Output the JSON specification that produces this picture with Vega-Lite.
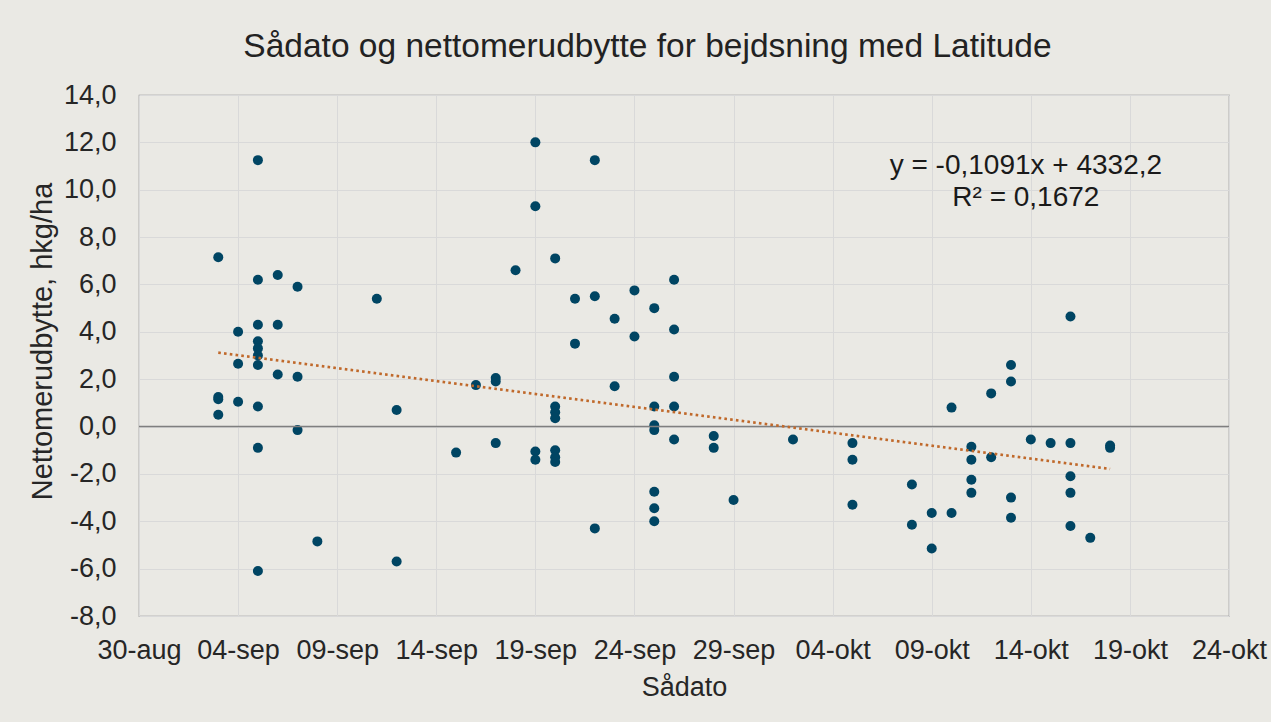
{
  "$schema": "https://vega.github.io/schema/vega-lite/v6.json",
  "width": 1090,
  "height": 521,
  "autosize": {"type": "none"},
  "padding": {"left": 139, "top": 95, "right": 42, "bottom": 106},
  "background": "#EAE9E4",
  "config": {
    "view": {"stroke": "#8C8C8C", "strokeWidth": 1.2},
    "font": "Liberation Sans"
  },
  "title": {
    "text": "Sådato og nettomerudbytte for bejdsning med Latitude",
    "font": "Liberation Sans",
    "fontSize": 33.5,
    "fontWeight": "normal",
    "color": "#222222",
    "anchor": "middle",
    "frame": "bounds",
    "offset": 17
  },
  "datasets": {
    "punkter": [
      {"dato": "2021-09-03", "netto": 7.15},
      {"dato": "2021-09-03", "netto": 1.25},
      {"dato": "2021-09-03", "netto": 1.15},
      {"dato": "2021-09-03", "netto": 0.5},
      {"dato": "2021-09-04", "netto": 4.0},
      {"dato": "2021-09-04", "netto": 2.65},
      {"dato": "2021-09-04", "netto": 1.05},
      {"dato": "2021-09-05", "netto": 11.25},
      {"dato": "2021-09-05", "netto": 6.2},
      {"dato": "2021-09-05", "netto": 4.3},
      {"dato": "2021-09-05", "netto": 3.6},
      {"dato": "2021-09-05", "netto": 3.3},
      {"dato": "2021-09-05", "netto": 3.0},
      {"dato": "2021-09-05", "netto": 2.6},
      {"dato": "2021-09-05", "netto": 0.85},
      {"dato": "2021-09-05", "netto": -0.9},
      {"dato": "2021-09-05", "netto": -6.1},
      {"dato": "2021-09-06", "netto": 6.4},
      {"dato": "2021-09-06", "netto": 4.3},
      {"dato": "2021-09-06", "netto": 2.2},
      {"dato": "2021-09-07", "netto": 5.9},
      {"dato": "2021-09-07", "netto": 2.1},
      {"dato": "2021-09-07", "netto": -0.15},
      {"dato": "2021-09-08", "netto": -4.85},
      {"dato": "2021-09-11", "netto": 5.4},
      {"dato": "2021-09-12", "netto": 0.7},
      {"dato": "2021-09-12", "netto": -5.7},
      {"dato": "2021-09-15", "netto": -1.1},
      {"dato": "2021-09-16", "netto": 1.75},
      {"dato": "2021-09-17", "netto": 2.05},
      {"dato": "2021-09-17", "netto": 1.9},
      {"dato": "2021-09-17", "netto": -0.7},
      {"dato": "2021-09-18", "netto": 6.6},
      {"dato": "2021-09-19", "netto": 12.0},
      {"dato": "2021-09-19", "netto": 9.3},
      {"dato": "2021-09-19", "netto": -1.05},
      {"dato": "2021-09-19", "netto": -1.4},
      {"dato": "2021-09-20", "netto": 7.1},
      {"dato": "2021-09-20", "netto": 0.85},
      {"dato": "2021-09-20", "netto": 0.6},
      {"dato": "2021-09-20", "netto": 0.35},
      {"dato": "2021-09-20", "netto": -1.0},
      {"dato": "2021-09-20", "netto": -1.3},
      {"dato": "2021-09-20", "netto": -1.5},
      {"dato": "2021-09-21", "netto": 5.4},
      {"dato": "2021-09-21", "netto": 3.5},
      {"dato": "2021-09-22", "netto": 11.25},
      {"dato": "2021-09-22", "netto": 5.5},
      {"dato": "2021-09-22", "netto": -4.3},
      {"dato": "2021-09-23", "netto": 4.55},
      {"dato": "2021-09-23", "netto": 1.7},
      {"dato": "2021-09-24", "netto": 5.75},
      {"dato": "2021-09-24", "netto": 3.8},
      {"dato": "2021-09-25", "netto": 5.0},
      {"dato": "2021-09-25", "netto": 0.85},
      {"dato": "2021-09-25", "netto": 0.05},
      {"dato": "2021-09-25", "netto": -0.15},
      {"dato": "2021-09-25", "netto": -2.75},
      {"dato": "2021-09-25", "netto": -3.45},
      {"dato": "2021-09-25", "netto": -4.0},
      {"dato": "2021-09-26", "netto": 6.2},
      {"dato": "2021-09-26", "netto": 4.1},
      {"dato": "2021-09-26", "netto": 2.1},
      {"dato": "2021-09-26", "netto": 0.85},
      {"dato": "2021-09-26", "netto": -0.55},
      {"dato": "2021-09-28", "netto": -0.4},
      {"dato": "2021-09-28", "netto": -0.9},
      {"dato": "2021-09-29", "netto": -3.1},
      {"dato": "2021-10-02", "netto": -0.55},
      {"dato": "2021-10-05", "netto": -0.7},
      {"dato": "2021-10-05", "netto": -1.4},
      {"dato": "2021-10-05", "netto": -3.3},
      {"dato": "2021-10-08", "netto": -2.45},
      {"dato": "2021-10-08", "netto": -4.15},
      {"dato": "2021-10-09", "netto": -3.65},
      {"dato": "2021-10-09", "netto": -5.15},
      {"dato": "2021-10-10", "netto": 0.8},
      {"dato": "2021-10-10", "netto": -3.65},
      {"dato": "2021-10-11", "netto": -0.85},
      {"dato": "2021-10-11", "netto": -1.4},
      {"dato": "2021-10-11", "netto": -2.25},
      {"dato": "2021-10-11", "netto": -2.8},
      {"dato": "2021-10-12", "netto": 1.4},
      {"dato": "2021-10-12", "netto": -1.3},
      {"dato": "2021-10-13", "netto": 2.6},
      {"dato": "2021-10-13", "netto": 1.9},
      {"dato": "2021-10-13", "netto": -3.0},
      {"dato": "2021-10-13", "netto": -3.85},
      {"dato": "2021-10-14", "netto": -0.55},
      {"dato": "2021-10-15", "netto": -0.7},
      {"dato": "2021-10-16", "netto": 4.65},
      {"dato": "2021-10-16", "netto": -0.7},
      {"dato": "2021-10-16", "netto": -2.1},
      {"dato": "2021-10-16", "netto": -2.8},
      {"dato": "2021-10-16", "netto": -4.2},
      {"dato": "2021-10-17", "netto": -4.7},
      {"dato": "2021-10-18", "netto": -0.8},
      {"dato": "2021-10-18", "netto": -0.9}
    ],
    "trend": [
      {"dato": "2021-09-03", "netto": 3.12},
      {"dato": "2021-10-18", "netto": -1.79}
    ],
    "ligning": [
      {"dato": "2021-10-13T18:00:00Z", "netto": 11.0, "tekst": "y = -0,1091x + 4332,2"},
      {"dato": "2021-10-13T18:00:00Z", "netto": 9.65, "tekst": "R² = 0,1672"}
    ],
    "nul": [{"netto": 0}]
  },
  "layer": [
    {
      "data": {"name": "punkter"},
      "mark": {"type": "circle", "size": 100, "color": "#004563", "opacity": 1},
      "encoding": {
        "x": {
          "field": "dato",
          "type": "temporal",
          "scale": {
            "type": "utc",
            "domain": [
              {"year": 2021, "month": 8, "date": 30, "utc": true},
              {"year": 2021, "month": 10, "date": 24, "utc": true}
            ]
          },
          "axis": {
            "values": [
              {"year": 2021, "month": 8, "date": 30, "utc": true},
              {"year": 2021, "month": 9, "date": 4, "utc": true},
              {"year": 2021, "month": 9, "date": 9, "utc": true},
              {"year": 2021, "month": 9, "date": 14, "utc": true},
              {"year": 2021, "month": 9, "date": 19, "utc": true},
              {"year": 2021, "month": 9, "date": 24, "utc": true},
              {"year": 2021, "month": 9, "date": 29, "utc": true},
              {"year": 2021, "month": 10, "date": 4, "utc": true},
              {"year": 2021, "month": 10, "date": 9, "utc": true},
              {"year": 2021, "month": 10, "date": 14, "utc": true},
              {"year": 2021, "month": 10, "date": 19, "utc": true},
              {"year": 2021, "month": 10, "date": 24, "utc": true}
            ],
            "labelExpr": "lower(replace(utcFormat(datum.value, '%d-%b'), 'Oct', 'okt'))",
            "labelFont": "Liberation Sans",
            "labelFontSize": 27,
            "labelColor": "#262626",
            "labelPadding": 21,
            "labelFlush": false,
            "labelOverlap": false,
            "ticks": false,
            "domain": false,
            "grid": true,
            "gridColor": "#D9D9D9",
            "gridWidth": 1,
            "title": "Sådato",
            "titleFont": "Liberation Sans",
            "titleFontSize": 27,
            "titleFontWeight": "normal",
            "titleColor": "#262626",
            "titlePadding": 11
          }
        },
        "y": {
          "field": "netto",
          "type": "quantitative",
          "scale": {"domain": [-8, 14], "nice": false, "zero": false},
          "axis": {
            "values": [-8, -6, -4, -2, 0, 2, 4, 6, 8, 10, 12, 14],
            "labelExpr": "(datum.value < 0 ? '-' : '') + replace(format(abs(datum.value), '.1f'), '.', ',')",
            "labelFont": "Liberation Sans",
            "labelFontSize": 27,
            "labelColor": "#262626",
            "labelPadding": 23,
            "ticks": false,
            "domain": false,
            "grid": true,
            "gridColor": "#D9D9D9",
            "gridWidth": 1,
            "title": "Nettomerudbytte, hkg/ha",
            "titleFont": "Liberation Sans",
            "titleFontSize": 29,
            "titleFontWeight": "normal",
            "titleColor": "#262626",
            "titlePadding": 6,
            "titleY": 246
          }
        }
      }
    },
    {
      "data": {"name": "nul"},
      "mark": {"type": "rule", "color": "#7F7F7F", "strokeWidth": 1.5},
      "encoding": {"y": {"field": "netto", "type": "quantitative"}}
    },
    {
      "data": {"name": "trend"},
      "mark": {"type": "line", "color": "#C0692B", "strokeWidth": 2.6, "strokeDash": [2.6, 3.2]},
      "encoding": {
        "x": {"field": "dato", "type": "temporal"},
        "y": {"field": "netto", "type": "quantitative"}
      }
    },
    {
      "data": {"name": "ligning"},
      "mark": {"type": "text", "font": "Liberation Sans", "fontSize": 28, "color": "#1A1A1A", "align": "center", "baseline": "middle"},
      "encoding": {
        "x": {"field": "dato", "type": "temporal"},
        "y": {"field": "netto", "type": "quantitative"},
        "text": {"field": "tekst"}
      }
    }
  ]
}
